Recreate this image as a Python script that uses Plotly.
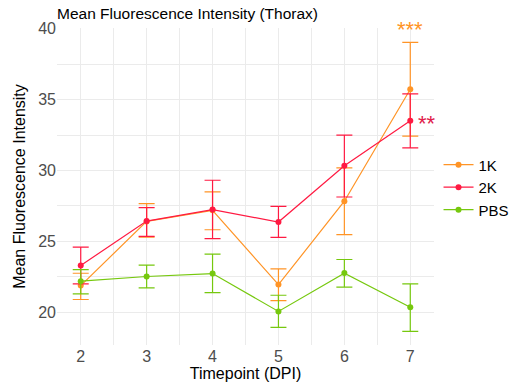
import plotly.graph_objects as go

timepoints = [2, 3, 4, 5, 6, 7]

k1_mean = [21.88, 26.41, 27.19, 21.95, 27.83, 35.73]
k1_upper = [22.75, 27.66, 28.49, 23.06, 30.19, 39.03]
k1_lower = [20.90, 25.30, 25.82, 20.82, 25.47, 32.43]

k2_mean = [23.30, 26.43, 27.24, 26.36, 30.33, 33.51]
k2_upper = [24.60, 27.38, 29.31, 27.47, 32.50, 35.40]
k2_lower = [22.00, 25.35, 25.19, 25.28, 28.13, 31.60]

pbs_mean = [22.19, 22.52, 22.73, 20.06, 22.76, 20.35]
pbs_upper = [23.00, 23.32, 24.10, 21.20, 23.72, 22.00]
pbs_lower = [21.30, 21.72, 21.39, 18.93, 21.77, 18.65]

series = [
    ("1K", k1_mean, k1_upper, k1_lower, "#FF9426"),
    ("2K", k2_mean, k2_upper, k2_lower, "#FF1A42"),
    ("PBS", pbs_mean, pbs_upper, pbs_lower, "#76C80E"),
]

fig = go.Figure()
for name, m, up, lo, col in series:
    fig.add_trace(go.Scatter(
        x=timepoints, y=m, name=name, mode="lines+markers",
        line=dict(color=col, width=1.2),
        marker=dict(color=col, size=6),
        error_y=dict(type="data", symmetric=False,
                     array=[u - v for u, v in zip(up, m)],
                     arrayminus=[v - l for v, l in zip(m, lo)],
                     color=col, thickness=1.2, width=8),
    ))

fig.add_annotation(x=7, y=39.95, text="***", showarrow=False,
                   font=dict(size=22, color="#FF9426"), yanchor="middle")
fig.add_annotation(x=7.26, y=33.3, text="**", showarrow=False,
                   font=dict(size=22, color="#E0204A"), yanchor="middle")

grid = "#EBEBEB"
fig.update_layout(
    width=515, height=391,
    margin=dict(l=57, r=81, t=28, b=46, autoexpand=False),
    plot_bgcolor="white", paper_bgcolor="white",
    font=dict(family="Liberation Sans, Arial, sans-serif", color="#000000"),
    title=dict(text="Mean Fluorescence Intensity (Thorax)", x=57/515, xanchor="left",
               y=1-14/391, yanchor="middle", font=dict(size=15.5, color="#000000")),
    legend=dict(x=1.012, y=0.62, xanchor="left", yanchor="top",
                font=dict(size=15, color="#000000"), bgcolor="rgba(0,0,0,0)",
                itemwidth=30, tracegroupgap=0, borderwidth=0),
    showlegend=True,
)
fig.update_xaxes(range=[1.64, 7.36], tickvals=timepoints, ticktext=[str(t) for t in timepoints],
                 showgrid=True, gridcolor=grid, gridwidth=1.2, zeroline=False,
                 showline=False, ticks="", tickfont=dict(size=16, color="#4D4D4D"),
                 minor=dict(tickvals=[2.5, 3.5, 4.5, 5.5, 6.5], showgrid=True, gridcolor=grid, gridwidth=0.6),
                 title=dict(text="Timepoint (DPI)", font=dict(size=16, color="#000000"), standoff=2))
fig.update_yaxes(range=[17.69, 40.05], tickvals=[20, 25, 30, 35, 40],
                 showgrid=True, gridcolor=grid, gridwidth=1.2, zeroline=False,
                 showline=False, ticks="", tickfont=dict(size=16, color="#4D4D4D"),
                 minor=dict(tickvals=[22.5, 27.5, 32.5, 37.5], showgrid=True, gridcolor=grid, gridwidth=0.6),
                 title=dict(text="Mean Fluorescence Intensity", font=dict(size=16, color="#000000"), standoff=8))

fig.write_html("out.html")
